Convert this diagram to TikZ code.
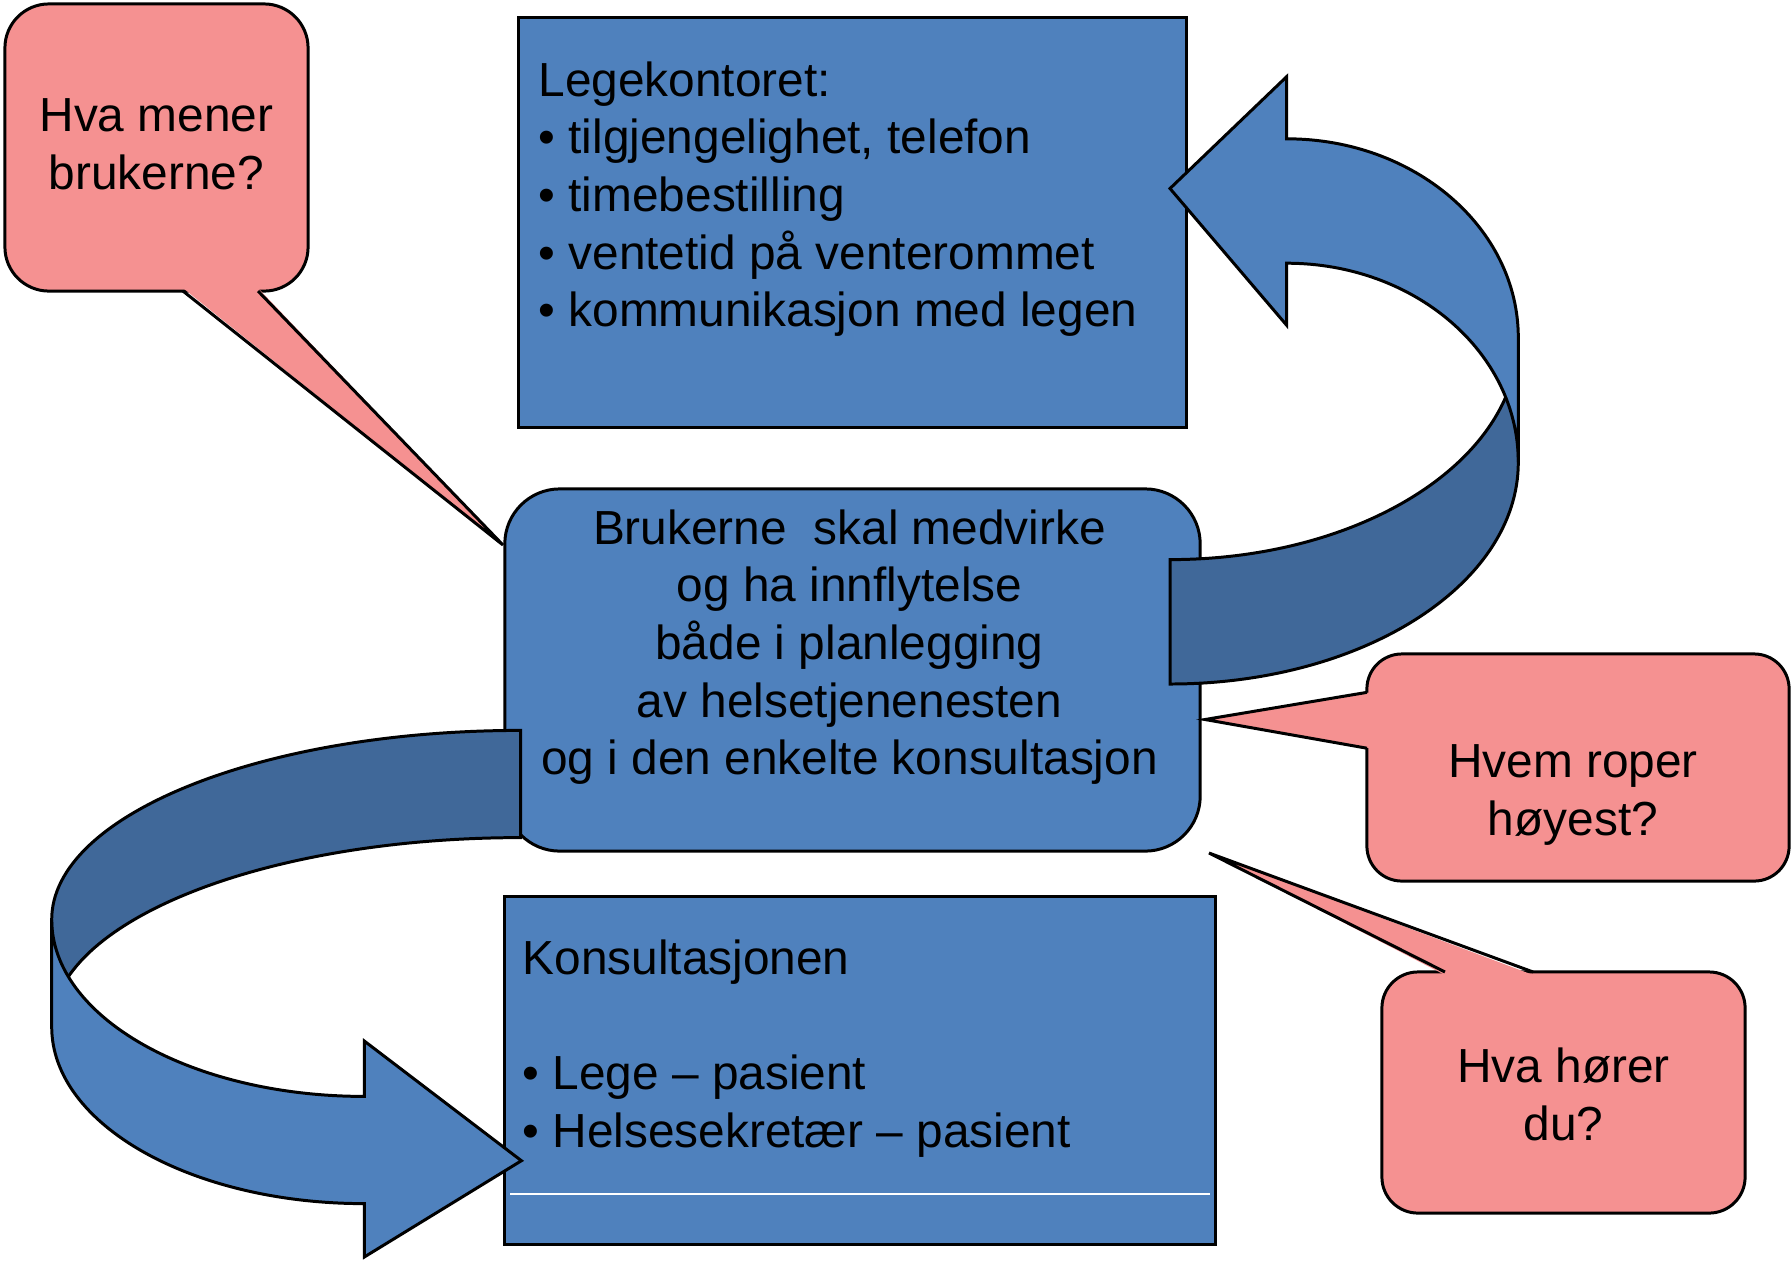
\documentclass[tikz,border=0pt]{standalone}
\usepackage{fontspec}
\setmainfont{Liberation Sans}
\usetikzlibrary{positioning}

\definecolor{panelblue}{RGB}{79,129,189}
\definecolor{shadeblue}{RGB}{64,104,153}
\definecolor{bubblepink}{RGB}{245,145,145}

\tikzset{
  outline/.style = {draw = black, line width = 0.85pt},
  panel/.style = {outline, fill = panelblue, inner sep = 0pt, outer sep = 0pt},
  roundpanel/.style = {panel, rounded corners = 0.55cm},
  bubble/.style = {outline, fill = bubblepink, inner sep = 0pt, outer sep = 0pt},
  tailfill/.style = {fill = bubblepink},
  tailline/.style = {outline, line join = miter},
  ribbon/.style = {outline, fill = panelblue, line join = miter},
  ribbonback/.style = {outline, fill = shadeblue},
  txt/.style = {inner sep = 0pt, font = \fontsize{13.6pt}{16.4pt}\selectfont}
}

\begin{document}
\begin{tikzpicture}[x = 0.01cm, y = 0.01cm]

\fill [white] (0,0) rectangle (1791,-1266);

% boxes
\node [panel, minimum width = 6.67cm, minimum height = 4.09cm] (lege) at (852.5,-222.5) {};
\node [roundpanel, minimum width = 6.95cm, minimum height = 3.62cm] (bruk) at (852.5,-670) {};
\node [panel, minimum width = 7.10cm, minimum height = 3.47cm] (kons) at (860,-1070.5) {};
\draw [white, line width = 0.4pt, shorten < = 1.5pt, shorten > = 1.5pt]
  ([yshift = 0.5cm]kons.south west) -- ([yshift = 0.5cm]kons.south east);

% speech bubbles
\node [bubble, rounded corners = 0.44cm, minimum width = 3.03cm, minimum height = 2.87cm] (mener) at (156.5,-147.5) {};
\node [bubble, rounded corners = 0.35cm, minimum width = 4.22cm, minimum height = 2.27cm] (roper) at (1578,-767.5) {};
\node [bubble, rounded corners = 0.36cm, minimum width = 3.63cm, minimum height = 2.41cm] (horer) at (1563.5,-1092.5) {};

\coordinate (tip1) at (503,-545);
\coordinate (tip2) at (1205,-719.5);
\coordinate (tip3) at (1209,-853);

\fill [tailfill] ([xshift = 1.78cm, yshift = 0.03cm]mener.south west) -- (tip1)
  -- ([xshift = 2.53cm, yshift = 0.03cm]mener.south west) -- cycle;
\draw [tailline] ([xshift = 1.78cm]mener.south west) -- (tip1) -- ([xshift = 2.53cm]mener.south west);

\fill [tailfill] ([xshift = 0.03cm, yshift = -0.384cm]roper.north west) -- (tip2)
  -- ([xshift = 0.03cm, yshift = -0.942cm]roper.north west) -- cycle;
\draw [tailline] ([yshift = -0.384cm]roper.north west) -- (tip2) -- ([yshift = -0.942cm]roper.north west);

\fill [tailfill] ([xshift = 0.63cm, yshift = -0.03cm]horer.north west) -- (tip3)
  -- ([xshift = 1.51cm, yshift = -0.03cm]horer.north west) -- cycle;
\draw [tailline] ([xshift = 0.63cm]horer.north west) -- (tip3) -- ([xshift = 1.51cm]horer.north west);

% ribbon arrow, right
\filldraw [ribbonback] (1170,-559.6)
  arc [start angle = 270, end angle = 360, x radius = 348.3, y radius = 221.8]
  -- (1518.3,-462.2)
  arc [start angle = 0, end angle = -90, x radius = 348.3, y radius = 221.8] -- cycle;
\filldraw [ribbon] (1518.3,-337.8)
  arc [start angle = 0, end angle = 90, x radius = 231.6, y radius = 199]
  -- (1286.7,-76.6) -- (1170,-188.5) -- (1286.7,-325.3) -- (1286.7,-263.2)
  arc [start angle = 90, end angle = 0, x radius = 231.6, y radius = 199] -- cycle;

% ribbon arrow, left
\filldraw [ribbonback] (520.7,-730.4)
  arc [start angle = 90, end angle = 180, x radius = 469, y radius = 189.2]
  -- (51.7,-1026.8)
  arc [start angle = 180, end angle = 90, x radius = 469, y radius = 189.2] -- cycle;
\filldraw [ribbon] (51.7,-919.6)
  arc [start angle = 180, end angle = 270, x radius = 312.6, y radius = 176.8]
  -- (364.3,-1041) -- (521.4,-1160.7) -- (364.3,-1257) -- (364.3,-1203.6)
  arc [start angle = 270, end angle = 180, x radius = 312.6, y radius = 176.8] -- cycle;

% texts
\node [txt, align = left, below right = 0.43cm and 0.19cm of lege.north west] (legetxt)
  {Legekontoret:\\• tilgjengelighet, telefon\\• timebestilling\\• ventetid på venterommet\\• kommunikasjon med legen};
\node [txt, align = center, below = 0.20cm of bruk.north, xshift = -0.03cm] (bruktxt)
  {Brukerne~ skal medvirke\\og ha innflytelse\\både i planlegging\\av helsetjenenesten\\og i den enkelte konsultasjon};
\node [txt, align = left, below right = 0.42cm and 0.17cm of kons.north west] (konstxt)
  {Konsultasjonen\\[16.4pt]• Lege – pasient\\• Helsesekretær – pasient};

\node [txt, align = center, below = 0.94cm of mener.north] (menertxt) {Hva mener\\brukerne?};
\node [txt, align = center, below = 0.90cm of roper.north, xshift = -0.05cm] (ropertxt) {Hvem roper\\høyest?};
\node [txt, align = center, below = 0.75cm of horer.north] (horertxt) {Hva hører\\du?};

\end{tikzpicture}
\end{document}
